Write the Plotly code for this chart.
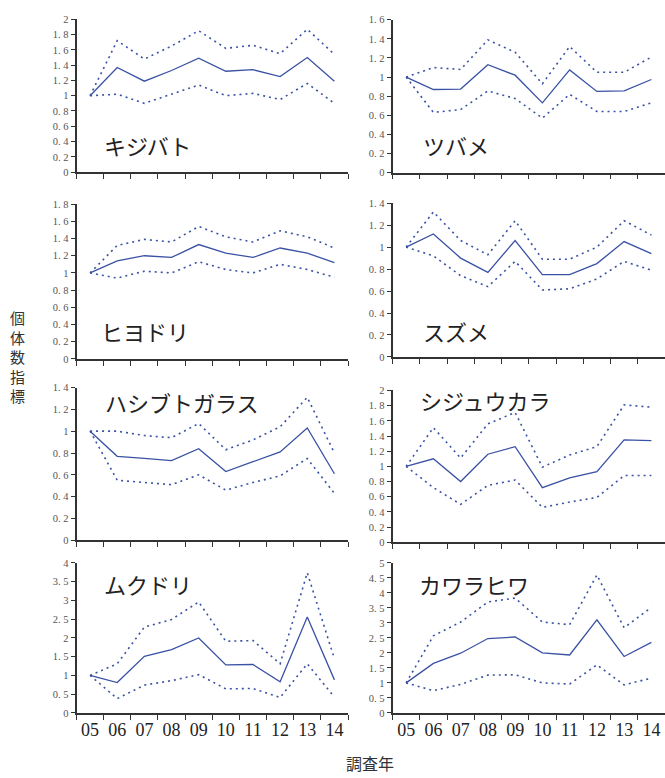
import plotly.graph_objects as go

W, H = 665, 778

years = ["05", "06", "07", "08", "09", "10", "11", "12", "13", "14"]

species = ["キジバト", "ツバメ", "ヒヨドリ", "スズメ", "ハシブトガラス", "シジュウカラ", "ムクドリ", "カワラヒワ"]

kijibato_mean = [1.0, 1.37, 1.19, 1.33, 1.49, 1.32, 1.34, 1.25, 1.50, 1.19]
kijibato_upper = [1.0, 1.72, 1.48, 1.65, 1.85, 1.62, 1.66, 1.55, 1.87, 1.54]
kijibato_lower = [1.0, 1.02, 0.90, 1.02, 1.14, 1.00, 1.03, 0.95, 1.16, 0.90]

tsubame_mean = [1.0, 0.87, 0.875, 1.13, 1.02, 0.73, 1.075, 0.85, 0.855, 0.975]
tsubame_upper = [1.0, 1.10, 1.08, 1.39, 1.26, 0.93, 1.32, 1.05, 1.05, 1.21]
tsubame_lower = [1.0, 0.63, 0.66, 0.855, 0.775, 0.57, 0.82, 0.64, 0.64, 0.73]

hiyodori_mean = [1.0, 1.14, 1.20, 1.18, 1.33, 1.23, 1.18, 1.29, 1.23, 1.12]
hiyodori_upper = [1.0, 1.32, 1.39, 1.36, 1.54, 1.42, 1.36, 1.49, 1.42, 1.29]
hiyodori_lower = [1.0, 0.94, 1.02, 1.00, 1.13, 1.04, 1.00, 1.10, 1.04, 0.95]

suzume_mean = [1.0, 1.12, 0.90, 0.77, 1.06, 0.75, 0.75, 0.85, 1.05, 0.94]
suzume_upper = [1.0, 1.32, 1.06, 0.93, 1.24, 0.89, 0.89, 1.0, 1.24, 1.11]
suzume_lower = [1.0, 0.92, 0.74, 0.64, 0.87, 0.61, 0.62, 0.71, 0.87, 0.79]

hashibuto_mean = [1.0, 0.77, 0.75, 0.73, 0.84, 0.63, 0.72, 0.81, 1.03, 0.61]
hashibuto_upper = [1.0, 1.0, 0.96, 0.94, 1.07, 0.83, 0.92, 1.04, 1.31, 0.80]
hashibuto_lower = [1.0, 0.55, 0.53, 0.51, 0.60, 0.46, 0.53, 0.59, 0.75, 0.43]

shijukara_mean = [1.0, 1.10, 0.80, 1.16, 1.26, 0.72, 0.85, 0.93, 1.35, 1.34]
shijukara_upper = [1.0, 1.51, 1.11, 1.56, 1.71, 0.99, 1.15, 1.26, 1.81, 1.78]
shijukara_lower = [1.0, 0.72, 0.50, 0.75, 0.82, 0.46, 0.53, 0.59, 0.88, 0.88]

mukudori_mean = [1.0, 0.81, 1.51, 1.69, 2.0, 1.28, 1.29, 0.83, 2.56, 0.88]
mukudori_upper = [1.0, 1.31, 2.29, 2.49, 2.96, 1.91, 1.93, 1.31, 3.74, 1.44]
mukudori_lower = [1.0, 0.38, 0.74, 0.86, 1.02, 0.64, 0.65, 0.41, 1.31, 0.42]

kawarahiwa_mean = [1.0, 1.65, 1.99, 2.48, 2.53, 2.0, 1.93, 3.10, 1.88, 2.35]
kawarahiwa_upper = [1.0, 2.57, 3.03, 3.70, 3.83, 3.03, 2.94, 4.60, 2.84, 3.52]
kawarahiwa_lower = [1.0, 0.74, 0.95, 1.26, 1.27, 1.0, 0.96, 1.60, 0.93, 1.16]

y_max = [2.0, 1.6, 1.8, 1.4, 1.4, 2.0, 4.0, 5.0]
y_step = [0.2, 0.2, 0.2, 0.2, 0.2, 0.2, 0.5, 0.5]

series = [
    (kijibato_mean, kijibato_upper, kijibato_lower),
    (tsubame_mean, tsubame_upper, tsubame_lower),
    (hiyodori_mean, hiyodori_upper, hiyodori_lower),
    (suzume_mean, suzume_upper, suzume_lower),
    (hashibuto_mean, hashibuto_upper, hashibuto_lower),
    (shijukara_mean, shijukara_upper, shijukara_lower),
    (mukudori_mean, mukudori_upper, mukudori_lower),
    (kawarahiwa_mean, kawarahiwa_upper, kawarahiwa_lower),
]

# pixel boxes: (left, right, top, bottom)
boxes = [
    (76.5, 348, 14.5, 169.5), (392.5, 665, 15, 170),
    (76.5, 348, 202, 359), (392.5, 665, 201, 357),
    (76.5, 348, 388, 543), (392.5, 665, 391, 545),
    (76.5, 348, 566, 718), (392.5, 665, 566, 718),
]
# label positions (left px, center y px)
label_pos = [
    (102, 142), (421, 142), (99, 331), (421, 331),
    (103, 403), (418, 401), (102, 587), (417, 587),
]

LINE = "#3a52a4"
AXIS = "#333333"

fig = go.Figure()
layout = {}
ann = []

def px_x(p):
    return p / W

def px_y(p):
    return 1 - p / H

for i in range(8):
    n = "" if i == 0 else str(i + 1)
    xa, ya = "x" + n, "y" + n
    mean, up, lo = series[i]
    fig.add_trace(go.Scatter(x=years, y=up, mode="lines", xaxis=xa, yaxis=ya,
                             line=dict(color=LINE, width=1.6, dash="2px,4px"), showlegend=False))
    fig.add_trace(go.Scatter(x=years, y=lo, mode="lines", xaxis=xa, yaxis=ya,
                             line=dict(color=LINE, width=1.6, dash="2px,4px"), showlegend=False))
    fig.add_trace(go.Scatter(x=years, y=mean, mode="lines", xaxis=xa, yaxis=ya,
                             line=dict(color=LINE, width=1.3), showlegend=False))
    l, r, t, b = boxes[i]
    bottom_row = i >= 6
    layout["xaxis" + n] = dict(
        domain=[px_x(l), min(1.0, px_x(r))], anchor=ya, type="category",
        categoryorder="array", categoryarray=years,
        range=[-0.5, 9.5], tickson="boundaries", ticks="outside", ticklen=5,
        tickwidth=1.2, tickcolor=AXIS, showline=True, linecolor=AXIS, linewidth=1.6,
        showgrid=False, zeroline=False, showticklabels=bottom_row, tickangle=0,
        tickfont=dict(family="Liberation Serif", size=18, color="#222"),
    )
    nt = int(round(y_max[i] / y_step[i]))
    tv = [round(k * y_step[i], 2) for k in range(nt + 1)]
    tt = [("%g" % v).replace(".", ". ") for v in tv]
    layout["yaxis" + n] = dict(
        domain=[px_y(b), px_y(t)], anchor=xa, range=[0, y_max[i]],
        tickvals=tv, ticktext=tt, ticks="outside", ticklen=4, tickwidth=1.2,
        tickcolor=AXIS, showline=True, linecolor=AXIS, linewidth=1.6,
        showgrid=False, zeroline=False,
        tickfont=dict(family="Liberation Serif", size=10.5, color="#555"),
    )
    lx, ly = label_pos[i]
    ann.append(dict(text=species[i], x=px_x(lx), y=px_y(ly), xref="paper", yref="paper",
                    xanchor="left", yanchor="middle", showarrow=False,
                    font=dict(family="Noto Sans CJK JP", size=22, color="#222")))

ann.append(dict(text="個<br>体<br>数<br>指<br>標", x=px_x(17), y=px_y(357), xref="paper", yref="paper",
                xanchor="center", yanchor="middle", showarrow=False,
                font=dict(family="Noto Sans CJK JP", size=15, color="#333")))
ann.append(dict(text="調査年", x=px_x(370), y=px_y(769), xref="paper", yref="paper",
                xanchor="center", yanchor="middle", showarrow=False,
                font=dict(family="Noto Sans CJK JP", size=16, color="#333")))

fig.update_layout(
    width=W, height=H, autosize=False,
    margin=dict(l=0, r=0, t=0, b=0),
    paper_bgcolor="white", plot_bgcolor="white",
    annotations=ann, **layout,
)

fig.write_html("out.html", config={"displayModeBar": False},
               post_script="document.body.style.margin='0';document.body.style.overflow='hidden';")
